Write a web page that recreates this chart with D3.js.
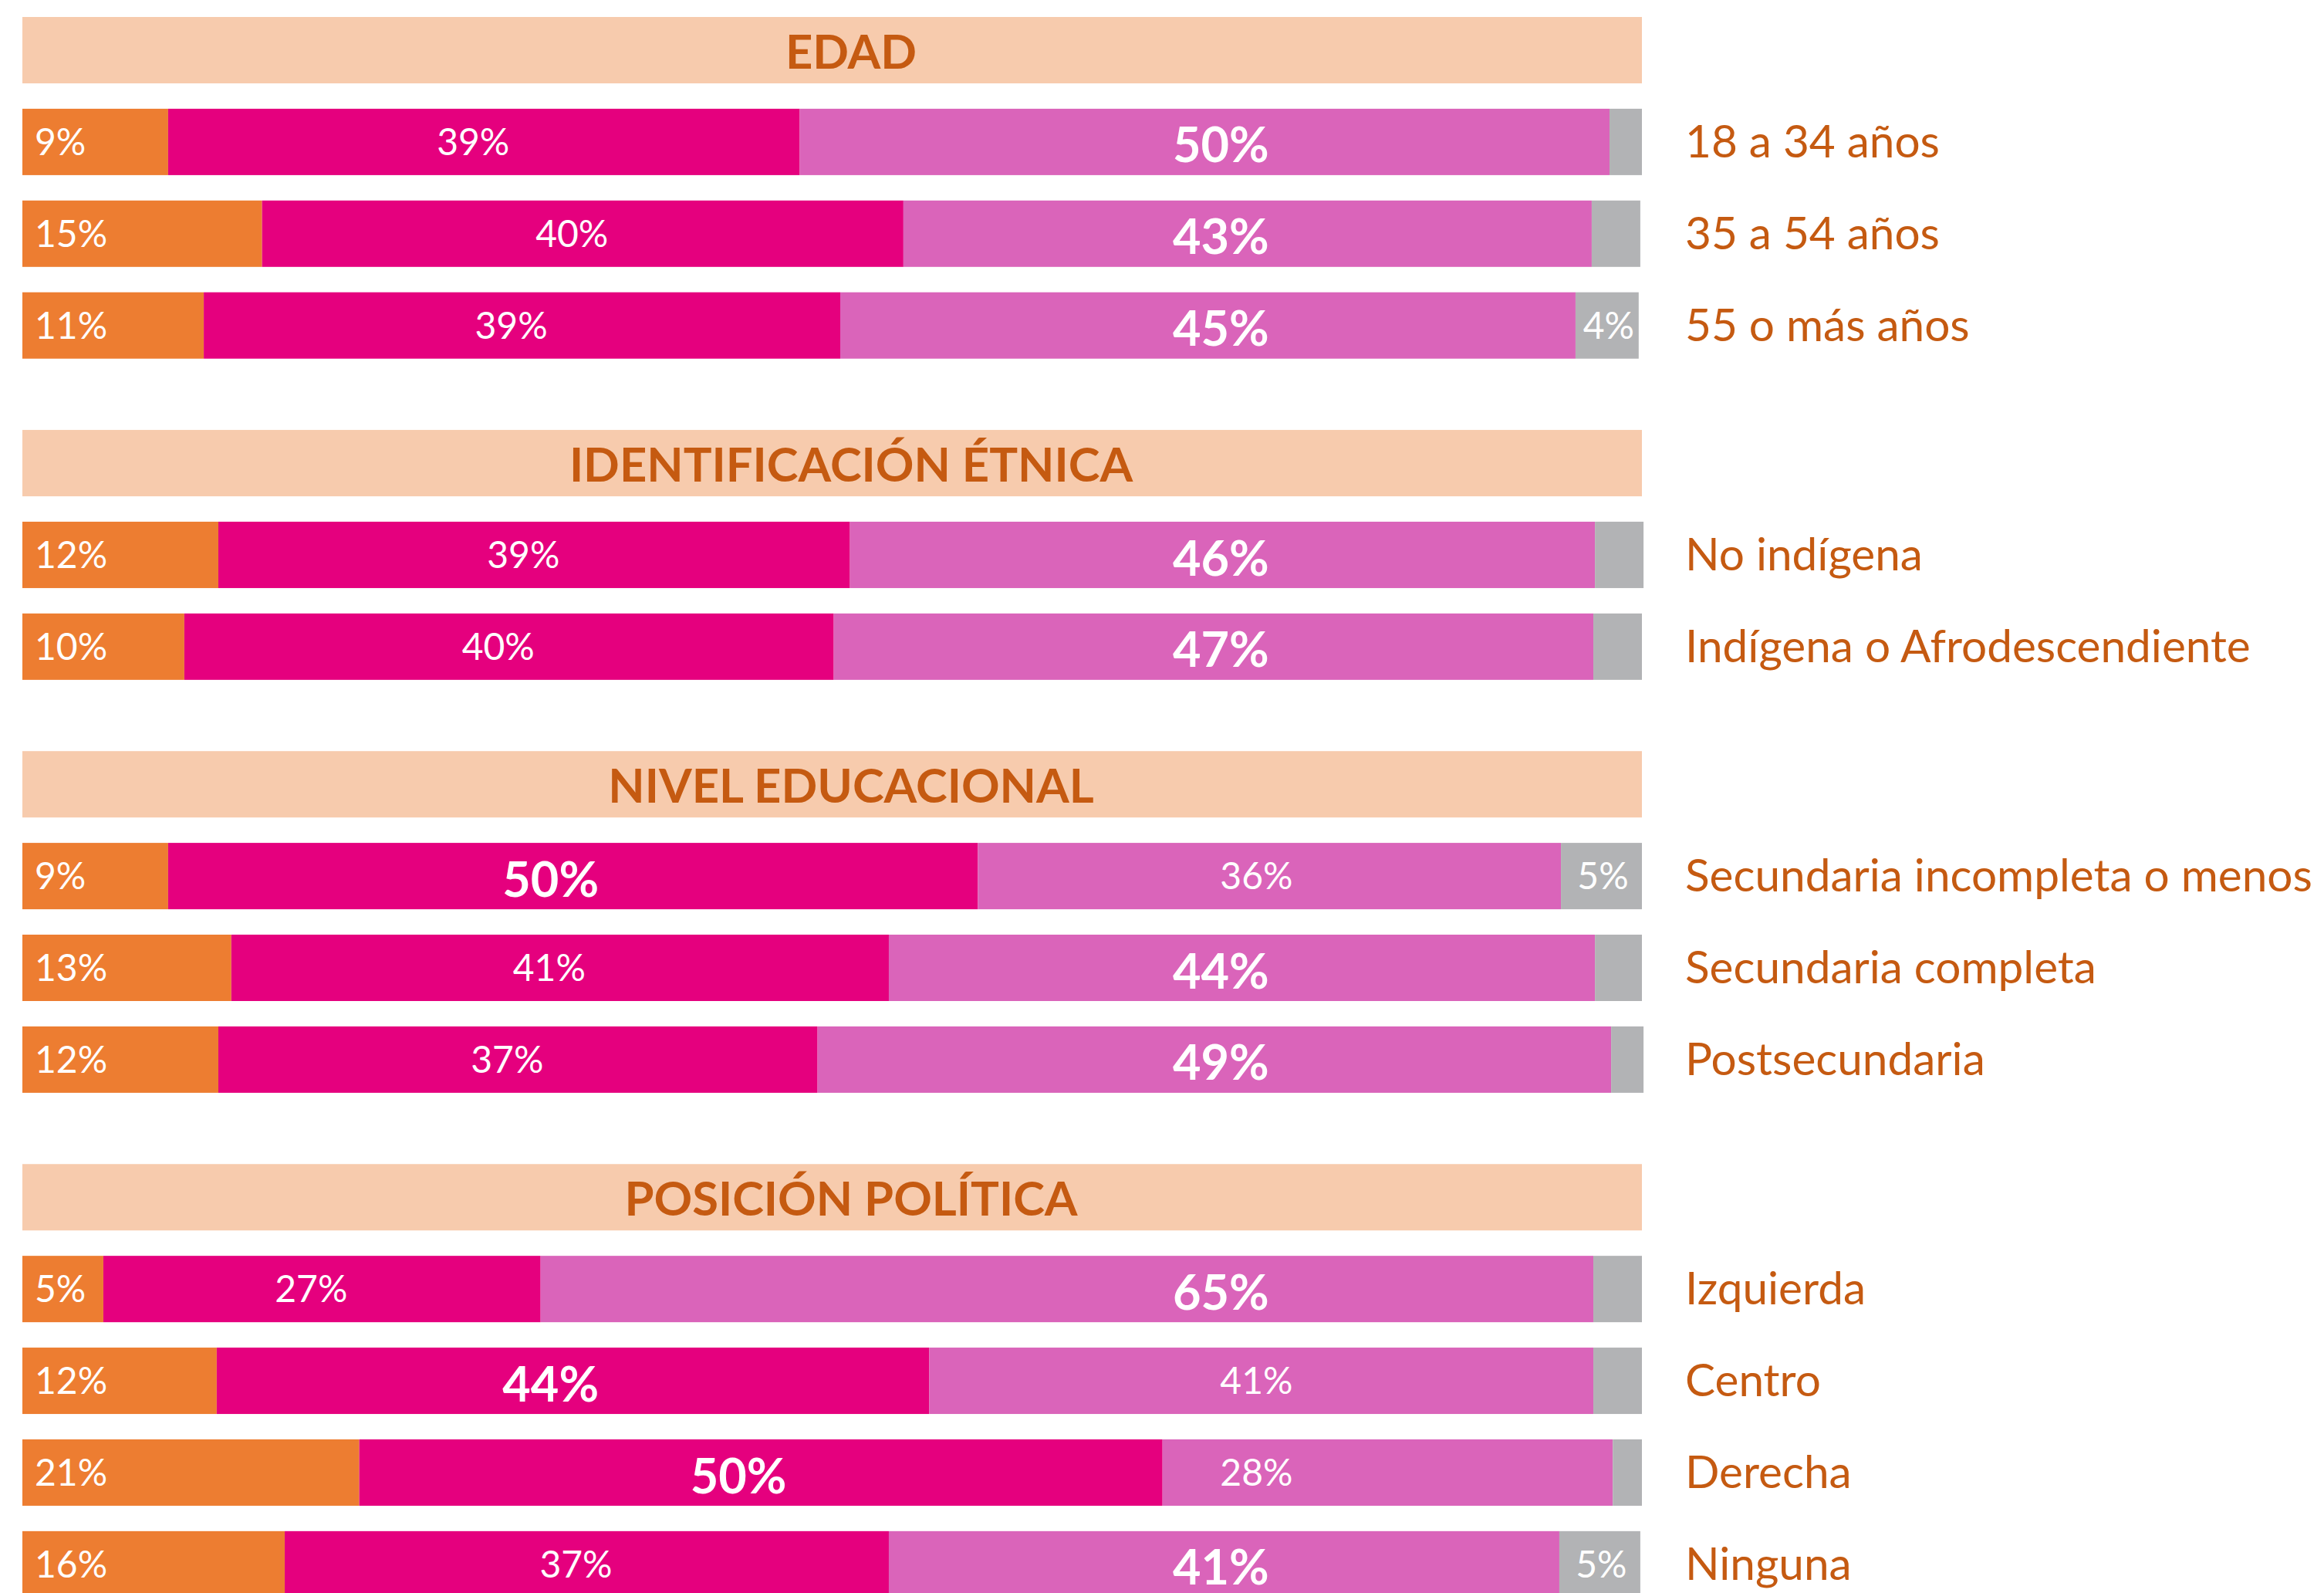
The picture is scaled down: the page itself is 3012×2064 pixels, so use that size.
<!DOCTYPE html>
<html>
<head>
<meta charset="utf-8">
<script src="https://cdn.jsdelivr.net/npm/d3@7"></script>
<style>
  body { margin: 0; background: #fff; }
  text { font-family: Lato, "Open Sans", sans-serif; }
</style>
</head>
<body>
<script>
// group headers and the categories under each one
var groups = ['EDAD', 'IDENTIFICACIÓN ÉTNICA', 'NIVEL EDUCACIONAL', 'POSICIÓN POLÍTICA'];
var categories = [
    '18 a 34 años', '35 a 54 años', '55 o más años',
    'No indígena', 'Indígena o Afrodescendiente',
    'Secundaria incompleta o menos', 'Secundaria completa', 'Postsecundaria',
    'Izquierda', 'Centro', 'Derecha', 'Ninguna'
];
var categoryGroup = [0, 0, 0, 1, 1, 2, 2, 2, 3, 3, 3, 3];

// series values (percent)
var seriesOrange  = [9.0, 14.8, 11.2, 12.1, 10.0, 9.0, 12.9, 12.1, 5.0, 12.0, 20.8, 16.2];
var seriesMagenta = [39.0, 39.6, 39.3, 39.0, 40.1, 50.0, 40.6, 37.0, 27.0, 44.0, 49.6, 37.3];
var seriesPink    = [50.0, 42.5, 45.4, 46.0, 46.9, 36.0, 43.6, 49.0, 65.0, 41.0, 27.8, 41.4];
var seriesGray    = [2.0, 3.0, 3.9, 3.0, 3.0, 5.0, 2.9, 2.0, 3.0, 3.0, 1.8, 5.0];

var keys = ['orange', 'magenta', 'pink', 'gray'];
var colors = {orange: '#ED7D31', magenta: '#E5007E', pink: '#DA64BA', gray: '#B2B3B5'};
var labelColor = '#C55A11';
var headerFill = '#F7CBAD';

var width = 3012, height = 2064;
var barH = 86;

var svg = d3.select('body').append('svg')
    .attr('width', width)
    .attr('height', height);

// rows for the stack
var table = categories.map(function(c, i) {
    return {name: c, group: categoryGroup[i], orange: seriesOrange[i], magenta: seriesMagenta[i],
            pink: seriesPink[i], gray: seriesGray[i]};
});

// slot positions: header takes one slot, each bar one slot, half a slot between groups
var slots = [];
var pos = 0;
groups.forEach(function(g, gi) {
    slots.push({type: 'header', name: g, pos: pos});
    pos += 1;
    table.filter(function(d) { return d.group === gi; }).forEach(function(d) {
        d.pos = pos;
        pos += 1;
    });
    pos += 0.5;
});

var x = d3.scaleLinear().domain([0, 100]).range([29, 2128]);
var y = d3.scaleLinear().domain([0, 1]).range([22, 22 + 118.9]);

// header bands
var headers = svg.selectAll('.header')
    .data(slots)
    .enter().append('g')
    .attr('class', 'header');

headers.append('rect')
    .attr('x', x(0))
    .attr('y', function(d) { return y(d.pos); })
    .attr('width', x(100) - x(0))
    .attr('height', barH)
    .attr('fill', headerFill);

headers.append('text')
    .attr('x', 1103)
    .attr('y', function(d) { return y(d.pos) + barH / 2 + 0.7165 * 61.5 / 2 + 2; })
    .attr('text-anchor', 'middle')
    .attr('font-size', 61.5)
    .attr('font-weight', 700)
    .attr('fill', labelColor)
    .text(function(d) { return d.name; });

// stacked bars
var stacked = d3.stack().keys(keys)(table);

var layers = svg.selectAll('.layer')
    .data(stacked)
    .enter().append('g')
    .attr('class', 'layer')
    .attr('fill', function(d) { return colors[d.key]; });

layers.selectAll('rect')
    .data(function(d) { return d; })
    .enter().append('rect')
    .attr('x', function(d) { return x(d[0]); })
    .attr('y', function(d) { return y(d.data.pos); })
    .attr('width', function(d) { return x(d[1]) - x(d[0]); })
    .attr('height', barH);

// value labels (largest value of each row is bold and bigger)
layers.each(function(layer) {
    var key = layer.key;
    d3.select(this).selectAll('text')
        .data(layer.filter(function(d) {
            return key !== 'gray' || Math.round(d.data.gray) >= 4;
        }))
        .enter().append('text')
        .each(function(d) {
            var v = d.data[key];
            var rowMax = d3.max(keys, function(k) { return d.data[k]; });
            var bold = v === rowMax;
            var size = bold ? 63 : 48;
            var t = d3.select(this);
            var cx, anchor = 'middle';
            if (key === 'orange') {
                cx = x(d[0]) + 16;
                anchor = 'start';
            } else if (key === 'magenta') {
                cx = (x(d[0]) + x(d[1])) / 2 - (bold ? 29 : 14);
            } else if (key === 'pink') {
                cx = bold ? x(74) : x(76.2);
            } else {
                cx = (x(d[0]) + x(d[1])) / 2 + 2;
            }
            t.attr('x', cx)
                .attr('y', y(d.data.pos) + barH / 2 + 0.7165 * size / 2 + (bold ? 4 : 0))
                .attr('text-anchor', anchor)
                .attr('font-size', size)
                .attr('font-weight', bold ? 700 : 400)
                .attr('fill', '#fff')
                .text(Math.round(v) + '%');
        });
});

// category labels on the right
svg.selectAll('.cat')
    .data(table)
    .enter().append('text')
    .attr('class', 'cat')
    .attr('x', 2184)
    .attr('y', function(d) { return y(d.pos) + barH / 2 + 20; })
    .attr('font-size', 58.5)
    .attr('fill', labelColor)
    .text(function(d) { return d.name; });
</script>
</body>
</html>
